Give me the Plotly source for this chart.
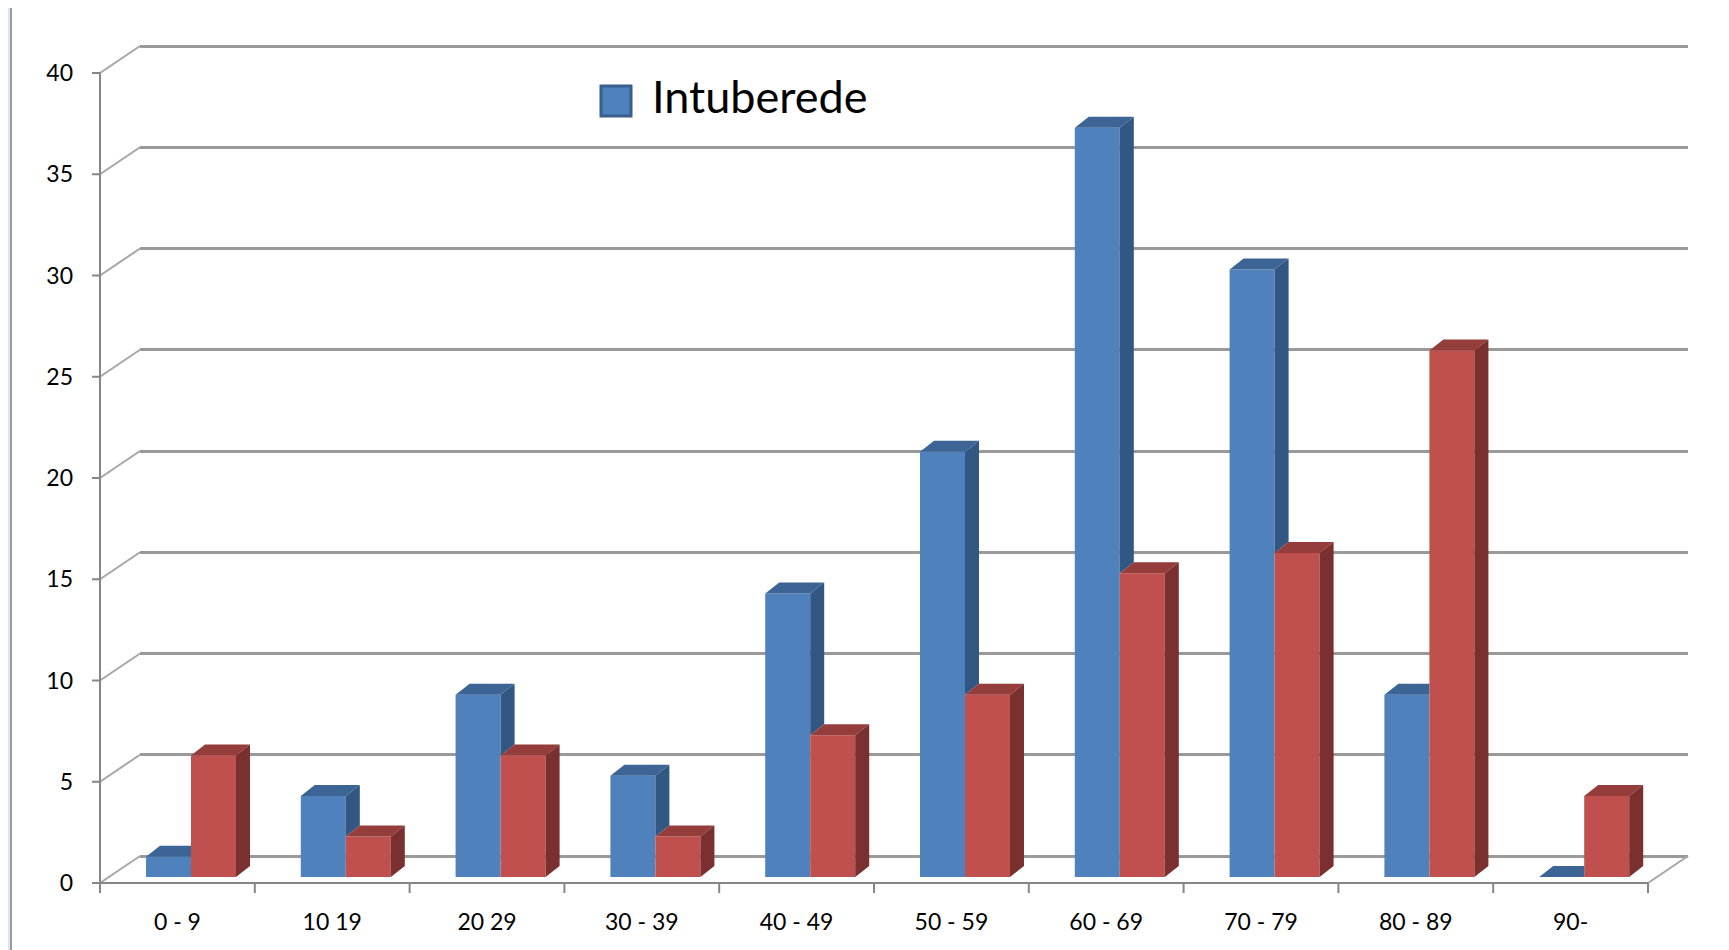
import plotly.graph_objects as go

# ---------------- data ----------------
categories = ["0 - 9", "10 19", "20 29", "30 - 39", "40 - 49",
              "50 - 59", "60 - 69", "70 - 79", "80 - 89", "90-"]
intuberede = [1, 4, 9, 5, 14, 21, 37, 30, 9, 0]
series2 = [6, 2, 6, 2, 7, 9, 15, 16, 26, 4]
y_ticks = [0, 5, 10, 15, 20, 25, 30, 35, 40]
legend_label = "Intuberede"

# ---------------- geometry (page pixels; the page body adds an 8px offset) ----------------
PAGE_OFF = 8
W, H = 1729 - PAGE_OFF, 950 - PAGE_OFF


def fx(px):
    return px - PAGE_OFF


def fy(py):
    return py - PAGE_OFF


ORIGIN_X, ORIGIN_Y = fx(100), fy(883)   # front corner of floor / y-axis
PX_CAT = 154.8                           # pixels per category
PX_UNIT = 20.25                          # pixels per value unit
PLOT_L, PLOT_R, PLOT_T, PLOT_B = fx(88), fx(1700), fy(30), fy(895)
WALL_DX_PX, WALL_DY_PX = 40, 27          # depth of the back wall
BAR_DX_PX, BAR_DY_PX = 14, 11            # depth of the bars
BAR_BASE_PX = 6
BAR_W_PX = 45
BLUE_LEFT_PX = 46

n = len(categories)
y_max = max(y_ticks)


def xu(px):
    return (px - ORIGIN_X) / PX_CAT


def yu(py):
    return (ORIGIN_Y - py) / PX_UNIT


x_range = [xu(PLOT_L), xu(PLOT_R)]
y_range = [yu(PLOT_B), yu(PLOT_T)]
wall_dx = WALL_DX_PX / PX_CAT
wall_dy = WALL_DY_PX / PX_UNIT
bar_dx = BAR_DX_PX / PX_CAT
bar_dy = BAR_DY_PX / PX_UNIT
bar_base = BAR_BASE_PX / PX_UNIT
bar_w = BAR_W_PX / PX_CAT
blue_left = BLUE_LEFT_PX / PX_CAT

BLUE, BLUE_TOP, BLUE_SIDE = "#4F81BD", "#3C6494", "#325783"
RED, RED_TOP, RED_SIDE = "#C0504D", "#953D3A", "#7A302E"
AXIS_COL = "#868686"
DIAG_COL = "#A6A6A6"
GRID_COL = "#999999"
FONT = "Lato"

fig = go.Figure()

# dummy trace for back-wall subplot (gridlines only)
fig.add_trace(go.Scatter(x=[0.5], y=[0], mode="markers", marker=dict(opacity=0),
                         hoverinfo="skip", showlegend=False, xaxis="x", yaxis="y"))


def line_trace(xs, ys, color, width):
    return go.Scatter(x=xs, y=ys, mode="lines", line=dict(color=color, width=width),
                      hoverinfo="skip", showlegend=False, xaxis="x2", yaxis="y2")


# side wall diagonals
dx_list, dy_list = [], []
for v in y_ticks:
    dx_list += [0, wall_dx, None]
    dy_list += [v, v + wall_dy, None]
fig.add_trace(line_trace(dx_list, dy_list, DIAG_COL, 2))
# floor right edge
fig.add_trace(line_trace([n, n + wall_dx], [0, wall_dy], DIAG_COL, 2))
# front y axis + ticks
tx, ty = [0, 0, None], [0, y_max, None]
for v in y_ticks:
    tx += [-8 / PX_CAT, 0, None]
    ty += [v, v, None]
fig.add_trace(line_trace(tx, ty, AXIS_COL, 2))
# front floor line + category ticks
flx, fly = [0, n, None], [0, 0, None]
for i in range(n + 1):
    flx += [i, i, None]
    fly += [0, -10 / PX_UNIT, None]
fig.add_trace(line_trace(flx, fly, AXIS_COL, 2))

# front faces of bars
xb = [i + blue_left + bar_w / 2 for i in range(n)]
xr_ = [i + blue_left + 1.5 * bar_w for i in range(n)]
fig.add_trace(go.Bar(x=xb, y=intuberede, base=bar_base, width=bar_w, name=legend_label,
                     marker=dict(color=BLUE, line=dict(width=0)), showlegend=False,
                     hoverinfo="skip", xaxis="x2", yaxis="y2"))
fig.add_trace(go.Bar(x=xr_, y=series2, base=bar_base, width=bar_w, name="series2",
                     marker=dict(color=RED, line=dict(width=0)), showlegend=False,
                     hoverinfo="skip", xaxis="x2", yaxis="y2"))

# top and side faces
bt_x, bt_y, bs_x, bs_y, rt_x, rt_y, rs_x, rs_y = [], [], [], [], [], [], [], []


def add_poly(lx, ly, pts):
    for (px, py) in pts:
        lx.append(px)
        ly.append(py)
    lx.append(pts[0][0])
    ly.append(pts[0][1])
    lx.append(None)
    ly.append(None)


for i in range(n):
    xl_b = i + blue_left
    xr_b = xl_b + bar_w
    xr_r = xr_b + bar_w
    Tb = bar_base + intuberede[i]
    Hr = bar_base + series2[i]
    # blue top (clipped where the red bar hides it)
    if Hr <= Tb:
        pts = [(xl_b, Tb), (xr_b, Tb), (xr_b + bar_dx, Tb + bar_dy), (xl_b + bar_dx, Tb + bar_dy)]
    elif Hr >= Tb + bar_dy:
        pts = [(xl_b, Tb), (xr_b, Tb), (xr_b, Tb + bar_dy), (xl_b + bar_dx, Tb + bar_dy)]
    else:
        k = (Tb + bar_dy - Hr) / bar_dy
        pts = [(xl_b, Tb), (xr_b, Tb), (xr_b, Hr), (xr_b + k * bar_dx, Tb + bar_dy),
               (xl_b + bar_dx, Tb + bar_dy)]
    add_poly(bt_x, bt_y, pts)
    # blue side, visible only above the red bar
    if Tb > Hr:
        add_poly(bs_x, bs_y, [(xr_b, Hr), (xr_b, Tb), (xr_b + bar_dx, Tb + bar_dy),
                              (xr_b + bar_dx, Hr + bar_dy)])
    # red top and side
    add_poly(rt_x, rt_y, [(xr_b, Hr), (xr_r, Hr), (xr_r + bar_dx, Hr + bar_dy),
                          (xr_b + bar_dx, Hr + bar_dy)])
    add_poly(rs_x, rs_y, [(xr_r, bar_base), (xr_r, Hr), (xr_r + bar_dx, Hr + bar_dy),
                          (xr_r + bar_dx, bar_base + bar_dy)])


def face(xs, ys, color):
    return go.Scatter(x=xs, y=ys, mode="lines", fill="toself", fillcolor=color,
                      line=dict(width=0, color=color), hoverinfo="skip",
                      showlegend=False, xaxis="x2", yaxis="y2")


fig.add_trace(face(bs_x, bs_y, BLUE_SIDE))
fig.add_trace(face(bt_x, bt_y, BLUE_TOP))
fig.add_trace(face(rt_x, rt_y, RED_TOP))
fig.add_trace(face(rs_x, rs_y, RED_SIDE))

dom_x = [PLOT_L / W, PLOT_R / W]
dom_y = [1 - PLOT_B / H, 1 - PLOT_T / H]
tick_font = dict(family=FONT, size=23, color="#000000")

fig.update_layout(
    width=W, height=H, autosize=False,
    margin=dict(l=0, r=0, t=0, b=0, pad=0),
    paper_bgcolor="#FFFFFF", plot_bgcolor="rgba(0,0,0,0)",
    showlegend=False, hovermode=False, barmode="overlay",
    xaxis=dict(domain=[(ORIGIN_X + WALL_DX_PX) / W, (ORIGIN_X + n * PX_CAT + WALL_DX_PX) / W],
               range=[0, 1], anchor="y", showgrid=False, zeroline=False,
               showticklabels=False, showline=False, ticks=""),
    yaxis=dict(domain=dom_y, range=[y_range[0] - wall_dy, y_range[1] - wall_dy], anchor="x",
               tickmode="array", tickvals=y_ticks, showgrid=True, gridcolor=GRID_COL,
               gridwidth=3, zeroline=False, showticklabels=False, showline=False, ticks=""),
    xaxis2=dict(domain=dom_x, range=x_range, anchor="y2", showgrid=False, zeroline=False,
                showline=False, ticks="", tickmode="array",
                tickvals=[i + 0.5 for i in range(n)], ticktext=categories,
                tickfont=tick_font, ticklabelstandoff=11),
    yaxis2=dict(domain=dom_y, range=y_range, anchor="x2", showgrid=False, zeroline=False,
                showline=False, ticks="", tickmode="array", tickvals=y_ticks,
                tickfont=tick_font, ticklabelstandoff=14),
)

# outer frame (light blue band with grey edge on the left)
fig.add_shape(type="rect", xref="paper", yref="paper", x0=0, x1=fx(11) / W, y0=0, y1=1,
              fillcolor="#DFE6F3", line=dict(width=0), layer="below")
fig.add_shape(type="line", xref="paper", yref="paper", x0=fx(11) / W, x1=fx(11) / W, y0=0, y1=1,
              line=dict(color="#9C9C9C", width=2))

# legend key
fig.add_shape(type="rect", xref="paper", yref="paper", x0=fx(601) / W, x1=fx(631) / W,
              y0=1 - fy(116) / H, y1=1 - fy(86) / H, fillcolor=BLUE,
              line=dict(color="#3A5F8E", width=3))
fig.add_annotation(text=legend_label, xref="paper", yref="paper", x=fx(650) / W, y=1 - fy(96) / H,
                   xanchor="left", yanchor="middle", showarrow=False,
                   font=dict(family=FONT, size=45, color="#000000"))

fig.write_html("out.html")
